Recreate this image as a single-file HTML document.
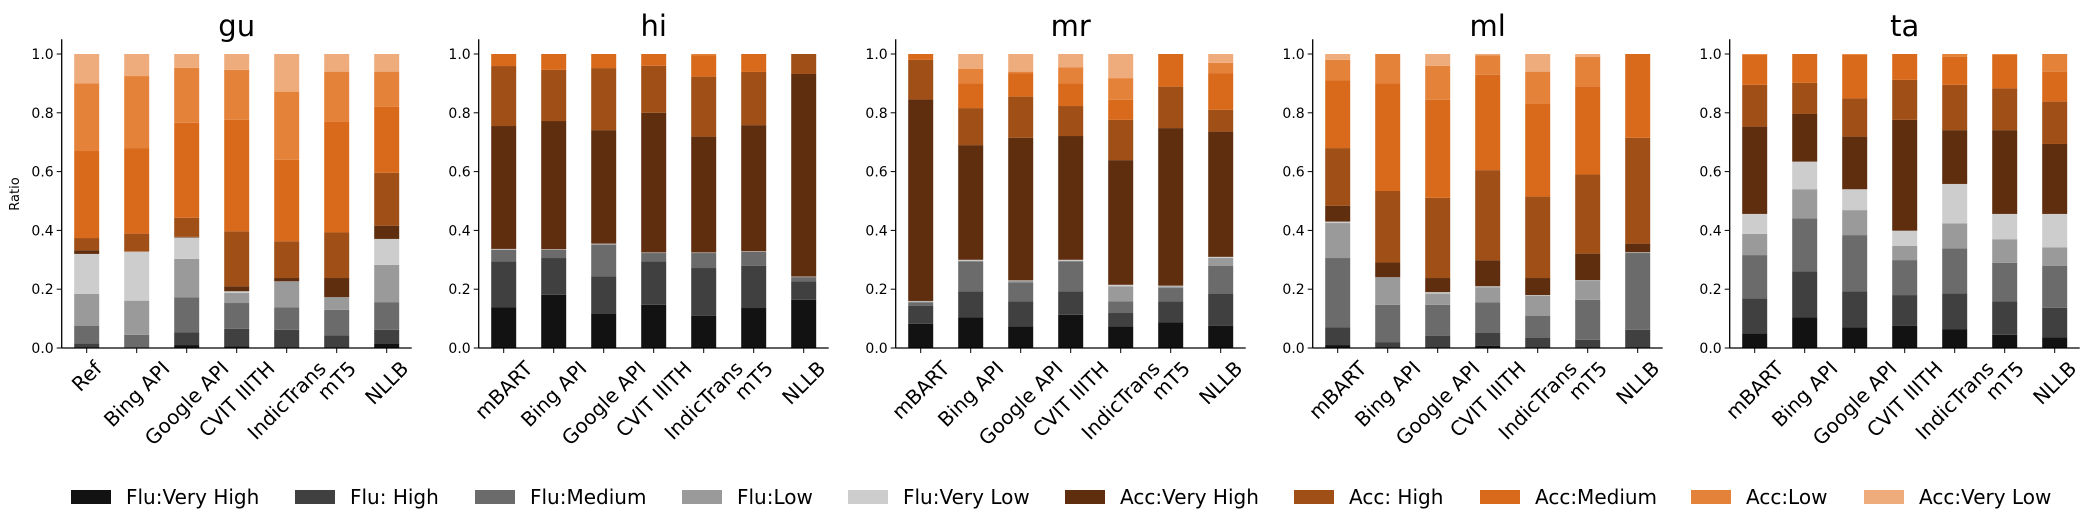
<!DOCTYPE html>
<html><head><meta charset="utf-8">
<style>
html,body{margin:0;padding:0;background:#fff;}
svg{display:block;font-family:"DejaVu Sans","Liberation Sans",sans-serif;}
</style></head>
<body>
<svg id="chart" width="2088" height="525" viewBox="0 0 2088 525" xmlns="http://www.w3.org/2000/svg"></svg>
<script>
const languages = ["gu","hi","mr","ml","ta"];
const systemsGu = ["Ref","Bing API","Google API","CVIT IIITH","IndicTrans","mT5","NLLB"];
const systemsOther = ["mBART","Bing API","Google API","CVIT IIITH","IndicTrans","mT5","NLLB"];
const seriesNames = ["Flu:Very High","Flu: High","Flu:Medium","Flu:Low","Flu:Very Low","Acc:Very High","Acc: High","Acc:Medium","Acc:Low","Acc:Very Low"];
const yTicks = [0,0.2,0.4,0.6,0.8,1.0];
const yTickLabels = ["0.0","0.2","0.4","0.6","0.8","1.0"];
// cumulative top of each segment, per bar
const guCum = [
 [0,0.015,0.076,0.184,0.32,0.332,0.374,0.67,0.90,1],
 [0,0.002,0.045,0.161,0.328,0.328,0.389,0.68,0.925,1],
 [0.01,0.053,0.172,0.303,0.376,0.378,0.443,0.766,0.953,1],
 [0.005,0.065,0.153,0.187,0.193,0.21,0.397,0.776,0.946,1],
 [0.003,0.062,0.138,0.227,0.227,0.238,0.363,0.64,0.872,1],
 [0.003,0.043,0.13,0.173,0.173,0.238,0.393,0.77,0.94,1],
 [0.015,0.062,0.156,0.283,0.371,0.416,0.596,0.82,0.94,1]];
const hiCum = [
 [0.139,0.295,0.334,0.336,0.337,0.755,0.959,1,1,1],
 [0.181,0.306,0.334,0.335,0.336,0.772,0.946,1,1,1],
 [0.117,0.244,0.351,0.354,0.355,0.741,0.952,1,1,1],
 [0.147,0.295,0.323,0.324,0.325,0.80,0.96,1,1,1],
 [0.11,0.272,0.323,0.324,0.325,0.719,0.923,0.995,1,1],
 [0.136,0.28,0.327,0.328,0.329,0.758,0.939,1,1,1],
 [0.164,0.227,0.241,0.242,0.243,0.932,1,1,1,1]];
const mrCum = [
 [0.082,0.144,0.155,0.158,0.16,0.845,0.98,1,1,1],
 [0.104,0.193,0.295,0.297,0.30,0.69,0.816,0.90,0.95,1],
 [0.074,0.159,0.223,0.228,0.23,0.715,0.855,0.935,0.94,1],
 [0.113,0.193,0.295,0.297,0.30,0.721,0.823,0.90,0.955,1],
 [0.074,0.119,0.159,0.21,0.215,0.639,0.776,0.844,0.918,1],
 [0.087,0.159,0.204,0.21,0.212,0.748,0.889,1,1,1],
 [0.076,0.185,0.28,0.306,0.31,0.736,0.81,0.935,0.97,1]];
const mlCum = [
 [0.01,0.07,0.306,0.425,0.43,0.484,0.68,0.91,0.98,1],
 [0,0.02,0.147,0.241,0.241,0.291,0.534,0.90,1,1],
 [0,0.042,0.147,0.185,0.19,0.238,0.511,0.844,0.96,1],
 [0.008,0.051,0.155,0.207,0.21,0.298,0.605,0.929,0.995,1],
 [0,0.034,0.11,0.178,0.18,0.238,0.515,0.83,0.94,1],
 [0,0.028,0.164,0.23,0.231,0.321,0.59,0.89,0.99,1],
 [0,0.062,0.323,0.325,0.326,0.355,0.715,1,1,1]];
const taCum = [
 [0.05,0.169,0.316,0.388,0.456,0.753,0.895,0.997,1,1],
 [0.104,0.26,0.441,0.54,0.634,0.796,0.902,1,1,1],
 [0.07,0.192,0.384,0.469,0.54,0.719,0.849,0.997,1,1],
 [0.075,0.18,0.299,0.347,0.399,0.776,0.912,1,1,1],
 [0.063,0.186,0.339,0.424,0.558,0.741,0.895,0.99,1,1],
 [0.045,0.158,0.29,0.37,0.456,0.741,0.883,0.997,1,1],
 [0.036,0.137,0.279,0.342,0.456,0.694,0.838,0.94,1,1]];
const allCum = [guCum,hiCum,mrCum,mlCum,taCum];
const colors = ["#121212","#404040","#6b6b6b","#9a9a9a","#cdcdcd","#5f2e0e","#a04f17","#d96a1b","#e5823a","#eeab7b"];

const NS="http://www.w3.org/2000/svg";
const svg=document.getElementById('chart');
function mk(tag,attrs,parent){const e=document.createElementNS(NS,tag);for(const k in attrs)e.setAttribute(k,attrs[k]);(parent||svg).appendChild(e);return e;}
const Y0=348, YS=294, BW=25;
function yPos(v){return Y0-YS*v;}
function spineX(p){return 61.7+417*p;}
function xPos(p,i){return spineX(p)+25+50*i;}

languages.forEach((lang,p)=>{
  const g=mk('g',{});
  
  
  const sx=spineX(p);
  const t=mk('text',{x:sx+175,y:36,'text-anchor':'middle','font-size':29,fill:'#000'},g);
  t.textContent=lang;
  
  
  const cats = p===0?systemsGu:systemsOther;
  allCum[p].forEach((cum,i)=>{
    let prev=0;
    cum.forEach((top,s)=>{
      const h=top-prev;
      if(h>0){
        const r=mk('rect',{x:xPos(p,i)-BW/2,y:yPos(top),width:BW,height:YS*h,fill:colors[s]},g);
        
        
      }
      prev=top;
    });
  });
  // axes
  const ya=mk('line',{x1:sx,y1:yPos(1.05),x2:sx,y2:Y0,stroke:'#000','stroke-width':1.3},g);
  
  
  const xa=mk('line',{x1:sx,y1:Y0,x2:sx+350,y2:Y0,stroke:'#000','stroke-width':1.3},g);
  
  
  yTicks.forEach((v,k)=>{
    mk('line',{x1:sx-5,y1:yPos(v),x2:sx,y2:yPos(v),stroke:'#000','stroke-width':1},g);
    const tl=mk('text',{x:sx-8,y:yPos(v)+5,'text-anchor':'end','font-size':14,fill:'#000'},g);
    tl.textContent=yTickLabels[k];
    
    
  });
  cats.forEach((c,i)=>{
    const cx=xPos(p,i);
    mk('line',{x1:cx,y1:Y0,x2:cx,y2:Y0+5,stroke:'#000','stroke-width':1},g);
    const tl=mk('text',{x:0,y:0,'text-anchor':'middle','dominant-baseline':'central','font-size':20,fill:'#000'},g);
    tl.textContent=c;
    
    
    const L=tl.getComputedTextLength();
    const box=(L+22)*0.7071;
    tl.setAttribute('transform','translate('+cx+','+(357+box/2)+') rotate(-45)');
  });
});
const yl=mk('text',{x:0,y:0,'text-anchor':'middle','font-size':13,fill:'#000',transform:'translate(19,194) rotate(-90)'});
yl.textContent='Ratio';



const legendX=[71,295,475,682,848,1065,1294,1480,1691,1864];
const lg=mk('g',{});


seriesNames.forEach((n,s)=>{
  const r=mk('rect',{x:legendX[s],y:490,width:40,height:14,fill:colors[s]},lg);
  
  
  const t=mk('text',{x:legendX[s]+55,y:504,'font-size':20,fill:'#000'},lg);
  t.textContent=n;
  
  
});
</script>
</body></html>
